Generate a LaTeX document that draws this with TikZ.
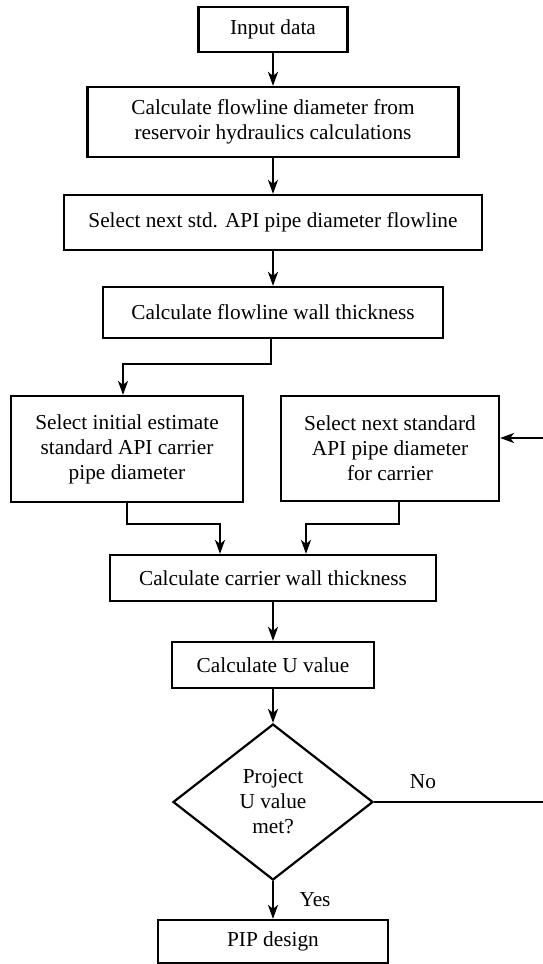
\documentclass[tikz,border=0pt]{standalone}
\usepackage{fontspec}
\setmainfont{Liberation Serif}
\usetikzlibrary{arrows.meta,shapes.geometric}
\begin{document}
\begin{tikzpicture}[x=1pt,y=-1pt,
  every node/.style={font=\fontsize{21.3}{25}\selectfont},
  box/.style={draw,line width=2.2pt,rectangle,inner sep=0pt,align=center},
  decide/.style={draw,line width=2.2pt,diamond,inner sep=0pt,align=center},
  lbl/.style={inner sep=0pt},
  arr/.style={line width=2.2pt,-{Stealth[length=14pt,width=10pt,inset=4pt]}},
  ln/.style={line width=2.2pt}]
\useasboundingbox (0,0) rectangle (543,964);

% process boxes
\node[box,minimum width=149pt,minimum height=45pt] (inp) at (273,29.5) {Input data};
\node[box,minimum width=371pt,minimum height=70pt] (hyd) at (273,122) {Calculate flowline diameter from\\reservoir hydraulics calculations};
\node[box,minimum width=418pt,minimum height=55pt] (flw) at (273,222.5) {Select next std. API pipe diameter flowline};
\node[box,minimum width=340pt,minimum height=51pt] (fwt) at (273,312.5) {Calculate flowline wall thickness};
\node[box,minimum width=232pt,minimum height=106pt] (init) at (127,449) {Select initial estimate\\standard API carrier\\pipe diameter};
\node[box,minimum width=218pt,minimum height=105pt] (next) at (390,448.5) {Select next standard\\API pipe diameter\\for carrier};
\node[box,minimum width=326pt,minimum height=46pt] (cwt) at (273,578) {Calculate carrier wall thickness};
\node[box,minimum width=202pt,minimum height=46pt] (uval) at (273,665) {Calculate U value};
\node[decide,minimum width=200pt,minimum height=156pt] (met) at (273,802) {Project\\U value\\met?};
\node[box,minimum width=230pt,minimum height=43pt] (pip) at (273,941.5) {PIP design};

% branch labels
\node[lbl] (no) at (423,782) {No};
\node[lbl] (yes) at (315,900) {Yes};

% loop-back route on the right
\coordinate (r1) at (546,802);
\coordinate (r2) at (546,438);

% connectors
\draw[arr] (inp.south) -- (inp.south |- hyd.north);
\draw[arr] (hyd.south) -- (hyd.south |- flw.north);
\draw[arr] (flw.south) -- (flw.south |- fwt.north);
\draw[arr] ([xshift=-2pt]fwt.south) -- ++(0,25) -| ([xshift=-4pt]init.north);
\draw[arr] (init.south) -- ++(0,21) -| ([xshift=-53pt]cwt.north);
\draw[arr] ([xshift=9pt]next.south) -- ++(0,22) -| ([xshift=33pt]cwt.north);
\draw[arr] (cwt.south) -- (uval.north);
\draw[arr] (uval.south) -- (met.north);
\draw[arr] (met.south) -- (pip.north);
\draw[ln] (met.east) -- (r1) -- (r2);
\draw[arr] (r2) -- (next.east |- r2);
\end{tikzpicture}
\end{document}
